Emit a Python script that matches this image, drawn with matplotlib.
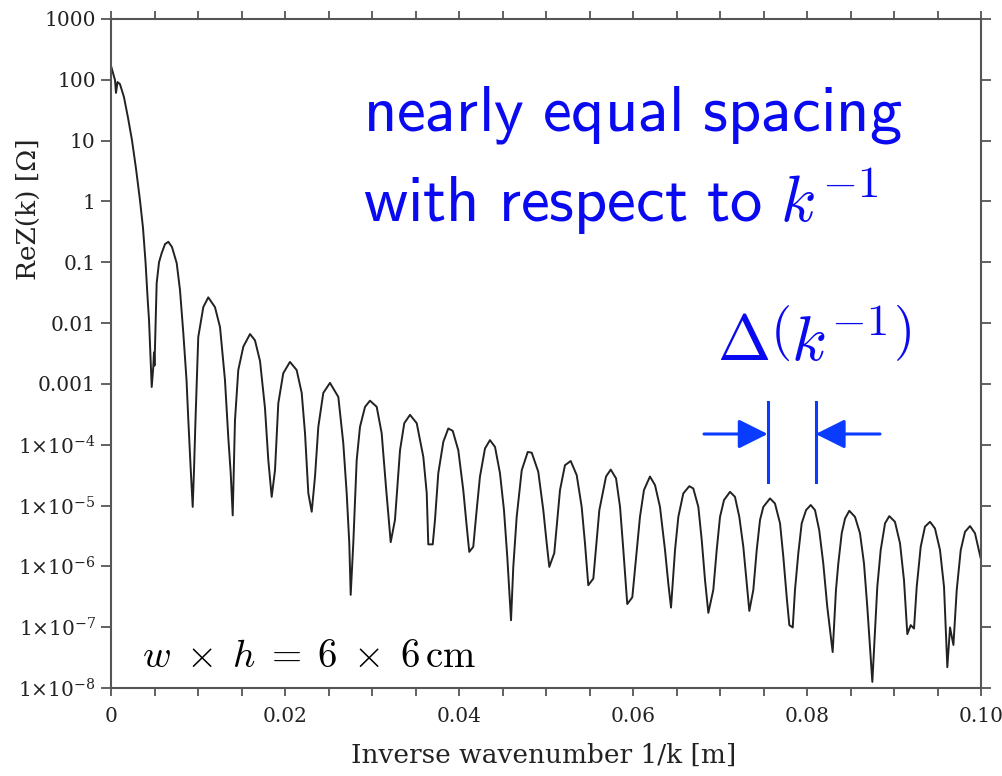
import matplotlib
matplotlib.use('Agg')
import matplotlib.pyplot as plt
from matplotlib.lines import Line2D
from matplotlib.ticker import FixedLocator, FixedFormatter

# inverse wavenumber 1/k [m] and Re Z(k) [Ohm]
inv_k = [0.0, 0.00046, 0.00057, 0.00075, 0.00103, 0.00149, 0.00195, 0.00241, 0.00287, 0.00333,
         0.00368, 0.00397, 0.00422, 0.00437, 0.00448, 0.00460, 0.00468, 0.00486, 0.00494, 0.00500,
         0.00525, 0.00552, 0.00583, 0.00621, 0.00659, 0.00701, 0.00755, 0.00793, 0.00831, 0.00868,
         0.00889, 0.00914, 0.00939,
         0.00954, 0.00971, 0.01003, 0.01061, 0.01118, 0.01195, 0.01253, 0.01310, 0.01348, 0.01376, 0.01399,
         0.01425, 0.01463, 0.01521, 0.01598, 0.01655, 0.01713, 0.01770, 0.01808, 0.01847,
         0.01885, 0.01923, 0.01980, 0.02057, 0.02134, 0.02192, 0.02230, 0.02268, 0.02307,
         0.02345, 0.02383, 0.02440, 0.02517, 0.02613, 0.02670, 0.02709, 0.02739, 0.02755,
         0.02785, 0.02824, 0.02862, 0.02920, 0.02977, 0.03054, 0.03111, 0.03161, 0.03215,
         0.03264, 0.03322, 0.03371, 0.03437, 0.03514, 0.03590, 0.03629, 0.03647, 0.03698,
         0.03724, 0.03762, 0.03820, 0.03877, 0.03928, 0.03992, 0.04049, 0.04089, 0.04118, 0.04164,
         0.04203, 0.04241, 0.04299, 0.04356, 0.04414, 0.04471, 0.04517, 0.04555, 0.04598,
         0.04624, 0.04663, 0.04721, 0.04790, 0.04836, 0.04911, 0.04969, 0.05008, 0.05038, 0.05095,
         0.05161, 0.05218, 0.05284, 0.05353, 0.05410, 0.05448, 0.05486, 0.05544,
         0.05613, 0.05690, 0.05744, 0.05805, 0.05851, 0.05889, 0.05934, 0.05992,
         0.06043, 0.06080, 0.06126, 0.06195, 0.06253, 0.06310, 0.06368, 0.06406, 0.06437,
         0.06483, 0.06521, 0.06578, 0.06647, 0.06693, 0.06751, 0.06790, 0.06828, 0.06866,
         0.06923, 0.06962, 0.07000, 0.07046, 0.07115, 0.07172, 0.07222, 0.07268, 0.07307, 0.07337,
         0.07383, 0.07422, 0.07460, 0.07498, 0.07575, 0.07632, 0.07690, 0.07728, 0.07767, 0.07797, 0.07836,
         0.07862, 0.07900, 0.07939, 0.07989, 0.08043, 0.08092, 0.08141, 0.08187, 0.08233, 0.08295,
         0.08333, 0.08360, 0.08399, 0.08437, 0.08486, 0.08552, 0.08609, 0.08655, 0.08693, 0.08724, 0.08751,
         0.08782, 0.08808, 0.08847, 0.08897, 0.08946, 0.09011, 0.09069, 0.09115, 0.09153, 0.09192, 0.09230,
         0.09261, 0.09307, 0.09356, 0.09414, 0.09471, 0.09529, 0.09575, 0.09613, 0.09644, 0.09683,
         0.09721, 0.09767, 0.09816, 0.09874, 0.09931, 0.09997]

re_z = [170, 99, 61, 92, 85, 52, 24, 10.2, 3.5, 1.05,
        0.365, 0.10, 0.024, 0.0112, 0.0047, 0.0020, 8.9e-4, 1.9e-3, 3.3e-3, 2.0e-3,
        0.0455, 0.10, 0.142, 0.199, 0.217, 0.178, 0.097, 0.035, 0.0069, 1.16e-3,
        2.5e-4, 4.6e-5, 9.5e-6,
        3.8e-5, 2.5e-4, 5.9e-3, 0.0183, 0.0265, 0.0183, 8.6e-3, 1.16e-3, 1.33e-4, 3.4e-5, 6.9e-6,
        2.5e-4, 1.69e-3, 4.1e-3, 6.6e-3, 5.2e-3, 2.37e-3, 4.0e-4, 5.6e-5, 1.39e-5,
        3.8e-5, 4.8e-4, 1.5e-3, 2.3e-3, 1.69e-3, 7.1e-4, 1.55e-4, 1.6e-5, 7.9e-6,
        3.0e-5, 1.97e-4, 7.1e-4, 1.04e-3, 6.1e-4, 1.06e-4, 1.6e-5, 2.4e-6, 3.4e-7,
        2.4e-6, 5.6e-5, 1.97e-4, 4.2e-4, 5.3e-4, 4.2e-4, 1.55e-4, 2.0e-5, 2.5e-6,
        5.8e-6, 8.1e-5, 2.26e-4, 3.1e-4, 2.26e-4, 6.3e-5, 1.6e-5, 2.3e-6, 2.3e-6,
        5.8e-6, 3.4e-5, 1.12e-4, 1.85e-4, 1.69e-4, 8.1e-5, 1.8e-5, 4.5e-6, 1.73e-6, 2.1e-6,
        8.4e-6, 3.0e-5, 8.7e-5, 1.19e-4, 9.2e-5, 3.4e-5, 8.4e-6, 1.43e-6, 1.3e-7,
        9.8e-7, 6.5e-6, 3.8e-5, 7.6e-5, 7.4e-5, 3.6e-5, 8.4e-6, 2.4e-6, 9.8e-7, 1.65e-6,
        1.8e-5, 4.6e-5, 5.4e-5, 3.16e-5, 9.5e-6, 2.4e-6, 4.9e-7, 6.3e-7,
        8.4e-6, 3.0e-5, 3.9e-5, 2.8e-5, 9.5e-6, 1.85e-6, 2.4e-7, 3.1e-7,
        1.85e-6, 6.5e-6, 1.8e-5, 3.0e-5, 2.17e-5, 9.5e-6, 1.85e-6, 5.2e-7, 2.1e-7,
        1.85e-6, 6.5e-6, 1.58e-5, 2.08e-5, 1.91e-5, 9.5e-6, 2.7e-6, 5.9e-7, 1.72e-7,
        4.1e-7, 1.85e-6, 6.5e-6, 1.23e-5, 1.68e-5, 1.39e-5, 6.5e-6, 2.1e-6, 5.2e-7, 1.85e-7,
        4.1e-7, 1.85e-6, 5.8e-6, 9.5e-6, 1.31e-5, 1.08e-5, 5.1e-6, 1.43e-6, 3.1e-7, 1.08e-7, 9.9e-8,
        4.1e-7, 1.63e-6, 5.1e-6, 8.4e-6, 1.02e-5, 8.4e-6, 3.9e-6, 1.12e-6, 2.16e-7, 3.9e-8,
        4.1e-7, 1.12e-6, 3.5e-6, 6.1e-6, 8.2e-6, 6.5e-6, 3.5e-6, 1.12e-6, 2.16e-7, 4.7e-8, 1.26e-8,
        8.9e-8, 4.6e-7, 1.85e-6, 5.1e-6, 6.7e-6, 5.4e-6, 2.4e-6, 5.9e-7, 7.7e-8, 1.08e-7, 9.5e-8,
        4.6e-7, 2.1e-6, 4.5e-6, 5.4e-6, 4.2e-6, 1.85e-6, 4.6e-7, 2.2e-8, 9.9e-8, 5.1e-8,
        4.1e-7, 1.85e-6, 3.7e-6, 4.6e-6, 3.5e-6, 1.35e-6]

x_ticks = [0, 0.02, 0.04, 0.06, 0.08, 0.10]
x_labels = ['0', '0.02', '0.04', '0.06', '0.08', '0.10']
y_ticks = [1e3, 1e2, 1e1, 1, 0.1, 0.01, 0.001, 1e-4, 1e-5, 1e-6, 1e-7, 1e-8]
y_labels = ['1000', '100', '10', '1', '0.1', '0.01', '0.001',
            r'$1{\times}10^{-4}$', r'$1{\times}10^{-5}$', r'$1{\times}10^{-6}$',
            r'$1{\times}10^{-7}$', r'$1{\times}10^{-8}$']

plt.rcParams['font.family'] = 'DejaVu Serif'
plt.rcParams['mathtext.fontset'] = 'dejavuserif'

W, H = 1002, 776
fig = plt.figure(figsize=(W / 100, H / 100), dpi=100)
ax = fig.add_axes([111 / W, 1 - 688 / H, 870 / W, 669 / H])

ax.plot(inv_k, re_z, color='#222222', lw=1.4)
ax.set_yscale('log')
ax.set_xlim(0, 0.10)
ax.set_ylim(1e-8, 1e3)

ax.xaxis.set_major_locator(FixedLocator(x_ticks))
ax.xaxis.set_major_formatter(FixedFormatter(x_labels))
ax.xaxis.set_minor_locator(FixedLocator([i * 0.005 for i in range(21)]))
ax.yaxis.set_major_locator(FixedLocator(y_ticks))
ax.yaxis.set_major_formatter(FixedFormatter(y_labels))
ax.yaxis.set_minor_locator(FixedLocator([]))

for s in ax.spines.values():
    s.set_color('#555555')
    s.set_linewidth(1.5)
ax.tick_params(which='both', direction='out', top=True, right=True,
               color='#555555', width=1.3, labelsize=14.5, labelcolor='#222222')
ax.tick_params(axis='y', which='major', length=7, pad=4)
ax.tick_params(axis='x', which='both', length=6, pad=8)

fig.text(544 / W, 1 - 755 / H, 'Inverse wavenumber 1/k [m]', fontsize=19,
         ha='center', va='center', color='#222222')
fig.text(28 / W, 1 - 209 / H, 'ReZ(k) [Ω]', fontsize=19, rotation=90,
         ha='center', va='center', color='#222222')


def fp(x, y):
    return (x / W, 1 - y / H)


blue = '#0a0af0'
arrow_blue = '#0a3cff'

fig.text(*fp(363, 130), r'$\mathsf{nearly\ equal\ spacing}$', math_fontfamily='cm',
         fontsize=46.5, color=blue, ha='left', va='baseline')
fig.text(*fp(363, 222), r'$\mathsf{with\ respect\ to}\ k^{-1}$', math_fontfamily='cm',
         fontsize=46.5, color=blue, ha='left', va='baseline')
fig.text(*fp(814, 342), r'$\Delta\left(k^{-1}\right)$', math_fontfamily='cm',
         fontsize=46, color=blue, ha='center', va='center')
fig.text(*fp(142, 667), r'$w\;\times\;h\;=\;6\;\times\;6\,\mathrm{cm}$', math_fontfamily='cm',
         fontsize=28, color='black', ha='left', va='baseline')

# dimension marks
for xv in (767.7, 815.7):
    fig.add_artist(Line2D([xv / W, xv / W], [1 - 402 / H, 1 - 482 / H],
                          transform=fig.transFigure, color=arrow_blue, lw=2.2))
ap = dict(arrowstyle='-|>,head_length=1.8,head_width=0.9', color=arrow_blue,
          lw=2.2, shrinkA=0, shrinkB=0, mutation_scale=10)
fig.add_artist(plt.Annotation('', xy=fp(767.7, 434), xytext=fp(704, 434),
                              xycoords='figure fraction', arrowprops=ap))
fig.add_artist(plt.Annotation('', xy=fp(815.7, 434), xytext=fp(880, 434),
                              xycoords='figure fraction', arrowprops=ap))

fig.savefig('out.png', dpi=100)
